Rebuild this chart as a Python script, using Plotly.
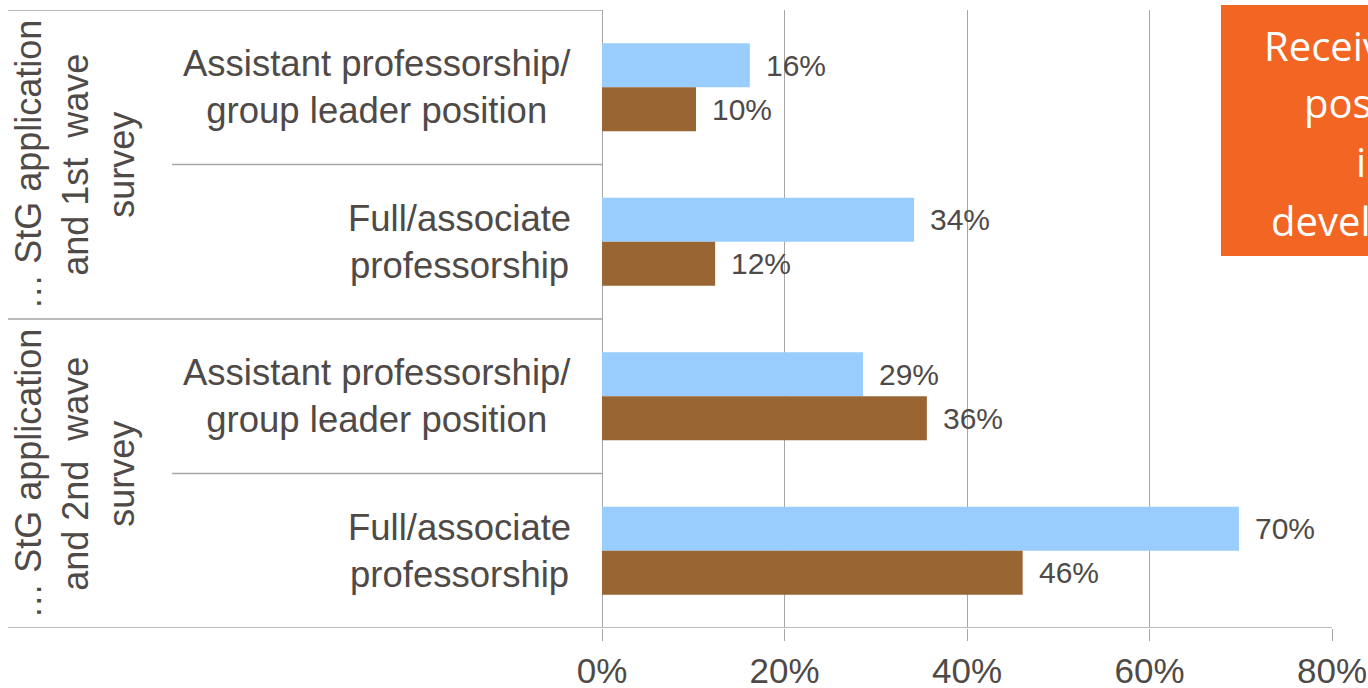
import plotly.graph_objects as go

# ---------------- data ----------------
groups = ["… StG application<br>and 1st\u00a0 wave<br>survey",
          "… StG application<br>and 2nd\u00a0 wave<br>survey"]
sub_labels = ["Assistant professorship/<br>group leader position",
              "Full/associate<br>professorship",
              "Assistant professorship/<br>group leader position",
              "Full/associate<br>professorship"]
categories = ["w1_assistant", "w1_full", "w2_assistant", "w2_full"]
group_of_cat = [0, 0, 1, 1]
series_names = ["Successful applicants", "Unsuccessful applicants"]
blue_vals = [16.2, 34.2, 28.6, 69.8]
brown_vals = [10.3, 12.4, 35.6, 46.1]
x_ticks = [0, 20, 40, 60, 80]
x_tick_text = ["0%", "20%", "40%", "60%", "80%"]
box_lines = ["Received", "position", "in", "development"]

# ---------------- style ----------------
FONT = "Liberation Sans, Arial, sans-serif"
TXT = "#4F4A47"
GRID = "#A6A6A6"
BLUE = "#99CCFF"
BROWN = "#996633"
ORANGE = "#F26522"

fig = go.Figure()
fig.add_trace(go.Bar(y=categories, x=blue_vals, orientation="h", name=series_names[0],
                     marker=dict(color=BLUE, line=dict(width=0))))
fig.add_trace(go.Bar(y=categories, x=brown_vals, orientation="h", name=series_names[1],
                     marker=dict(color=BROWN, line=dict(width=0))))

annotations = []
# data labels
for vals, ysh in ((blue_vals, 22), (brown_vals, -22)):
    for c, v in zip(categories, vals):
        annotations.append(dict(x=v, y=c, xref="x", yref="y", text=f"{round(v)}%",
                                showarrow=False, xanchor="left", yanchor="middle",
                                xshift=14, yshift=ysh,
                                font=dict(family=FONT, size=30, color=TXT)))
# sub-category labels
for c, lab in zip(categories, sub_labels):
    annotations.append(dict(x=-0.04, y=c, xref="paper", yref="y", text=lab,
                            showarrow=False, xanchor="right", yanchor="middle", align="center",
                            font=dict(family=FONT, size=36.5, color=TXT)))
# group labels (rotated)
for gi, g in enumerate(groups):
    idx = [i for i, k in enumerate(group_of_cat) if k == gi]
    ymid = (idx[0] + idx[-1]) / 2
    annotations.append(dict(x=-0.7215, y=ymid, xref="paper", yref="y", text=g,
                            showarrow=False, xanchor="center", yanchor="middle", align="center",
                            textangle=-90, font=dict(family=FONT, size=36, color=TXT)))
# orange box text (clipped at the right edge, as in the reference)
box_x = [0.9035, 0.9583, 1.0295, 0.9131]
box_y = [0.943, 0.850, 0.755, 0.660]
for t, bx, by in zip(box_lines, box_x, box_y):
    annotations.append(dict(x=bx, y=by, xref="paper", yref="paper", text=t,
                            showarrow=False, xanchor="left", yanchor="middle",
                            font=dict(family="Open Sans, sans-serif", size=40, color="white")))

shapes = []
# horizontal separators on the category side
for yb, x0 in ((-0.5, -0.8137), (0.5, -0.589), (1.5, -0.8137), (2.5, -0.589)):
    shapes.append(dict(type="line", xref="paper", yref="y", x0=x0, x1=0, y0=yb, y1=yb,
                       line=dict(color=GRID, width=1.5)))
shapes.append(dict(type="line", xref="paper", yref="y", x0=-0.8137, x1=1, y0=3.5, y1=3.5,
                   line=dict(color=GRID, width=1.5)))
# orange text box
shapes.append(dict(type="rect", xref="paper", yref="paper", x0=0.8479, x1=1.2, y0=0.602, y1=1.008,
                   fillcolor=ORANGE, line=dict(width=0), layer="above"))

fig.update_layout(
    width=1368, height=688,
    margin=dict(l=602, r=36, t=10, b=60, autoexpand=False),
    paper_bgcolor="white", plot_bgcolor="white",
    barmode="group", bargap=0.43, bargroupgap=0,
    showlegend=False,
    annotations=annotations, shapes=shapes,
    font=dict(family=FONT, color=TXT),
)
fig.update_xaxes(range=[0, 80], tickvals=x_ticks, ticktext=x_tick_text,
                 showgrid=True, gridcolor=GRID, gridwidth=1.3,
                 zeroline=True, zerolinecolor=GRID, zerolinewidth=1.3,
                 ticks="outside", ticklen=12, tickcolor=GRID, tickwidth=1.3,
                 automargin=False,
                 tickfont=dict(family=FONT, size=35, color=TXT),
                 showline=False, fixedrange=True)
fig.update_yaxes(categoryorder="array", categoryarray=categories, autorange=False,
                 range=[3.5, -0.5], showticklabels=False, showgrid=False, zeroline=False,
                 ticks="", showline=False, fixedrange=True, automargin=False)

fig.write_html("out.html", config={"displayModeBar": False},
               post_script="document.body.style.margin='0';document.body.style.overflow='hidden';")
